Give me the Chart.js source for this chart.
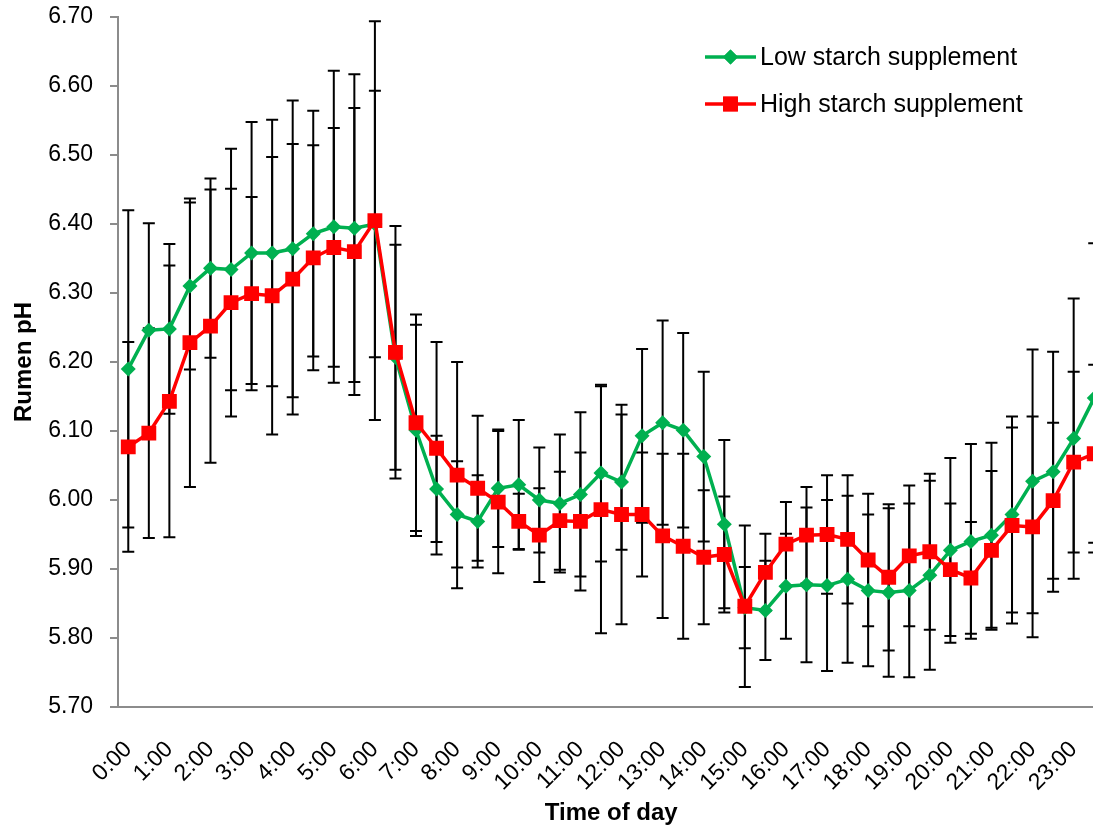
<!DOCTYPE html>
<html>
<head>
<meta charset="utf-8">
<script src="https://cdn.jsdelivr.net/npm/chart.js@4.4.0/dist/chart.umd.min.js"></script>
<style>
html,body{margin:0;padding:0;background:#fff;overflow:hidden;}
#wrap{width:1115px;height:828px;}
</style>
</head>
<body>
<div id="wrap"><canvas id="ph" width="1115" height="828"></canvas></div>
<script>
// half-hourly readings, labels shown every full hour
const times = ['0:00','0:30','1:00','1:30','2:00','2:30','3:00','3:30','4:00','4:30','5:00','5:30',
  '6:00','6:30','7:00','7:30','8:00','8:30','9:00','9:30','10:00','10:30','11:00','11:30',
  '12:00','12:30','13:00','13:30','14:00','14:30','15:00','15:30','16:00','16:30','17:00','17:30',
  '18:00','18:30','19:00','19:30','20:00','20:30','21:00','21:30','22:00','22:30','23:00','23:30'];

const lowStarch = [6.190,6.246,6.248,6.310,6.336,6.334,6.358,6.358,6.364,6.386,6.396,6.394,
  6.400,6.207,6.101,6.016,5.979,5.969,6.017,6.022,6.000,5.995,6.008,6.039,
  6.026,6.093,6.112,6.101,6.063,5.965,5.844,5.840,5.875,5.877,5.876,5.885,
  5.869,5.866,5.869,5.891,5.927,5.940,5.949,5.979,6.027,6.041,6.089,6.148];
const lowStarchErr = [0.230,0.155,0.123,0.121,0.130,0.175,0.190,0.193,0.215,0.178,0.226,0.223,
  0.193,0.163,0.153,0.077,0.077,0.067,0.085,0.094,0.076,0.100,0.119,0.128,
  0.098,0.126,0.148,0.141,0.123,0.122,0.059,0.072,0.076,0.112,0.124,0.121,
  0.110,0.122,0.126,0.137,0.134,0.141,0.134,0.142,0.191,0.174,0.203,0.224];

const highStarch = [6.077,6.097,6.143,6.228,6.252,6.286,6.299,6.296,6.320,6.351,6.366,6.360,
  6.405,6.214,6.112,6.075,6.036,6.017,5.997,5.969,5.949,5.970,5.969,5.986,
  5.979,5.979,5.948,5.933,5.917,5.921,5.846,5.895,5.936,5.949,5.950,5.943,
  5.913,5.888,5.919,5.925,5.899,5.887,5.927,5.963,5.961,5.999,6.055,6.067];
const highStarchErr = [0.152,0.152,0.197,0.209,0.198,0.165,0.140,0.201,0.196,0.163,0.173,0.208,
  0.289,0.183,0.157,0.154,0.164,0.105,0.103,0.040,0.068,0.071,0.100,0.179,
  0.159,0.090,0.119,0.134,0.097,0.084,0.117,0.056,0.061,0.070,0.086,0.093,
  0.096,0.106,0.102,0.113,0.096,0.081,0.115,0.142,0.160,0.113,0.131,0.129];

const yMin = 5.70, yMax = 6.70, yStep = 0.10;

const FONT = "'Liberation Sans', Arial, sans-serif";
const GREEN = '#00B050', RED = '#FF0000', AXIS = '#8c8c8c';
const errs = [lowStarchErr, highStarchErr];

const errorBars = {
  id: 'errorBars',
  beforeDatasetsDraw(chart) {
    const ctx = chart.ctx, y = chart.scales.y;
    ctx.save();
    ctx.strokeStyle = '#000';
    ctx.lineWidth = 2;
    chart.data.datasets.forEach((ds, di) => {
      chart.getDatasetMeta(di).data.forEach((pt, i) => {
        const top = y.getPixelForValue(ds.data[i] + errs[di][i]);
        const bot = y.getPixelForValue(ds.data[i] - errs[di][i]);
        ctx.beginPath();
        ctx.moveTo(pt.x, top); ctx.lineTo(pt.x, bot);
        ctx.moveTo(pt.x - 6, top); ctx.lineTo(pt.x + 6, top);
        ctx.moveTo(pt.x - 6, bot); ctx.lineTo(pt.x + 6, bot);
        ctx.stroke();
      });
    });
    ctx.restore();
  }
};

const boxLegend = {
  id: 'boxLegend',
  afterDraw(chart) {
    const ctx = chart.ctx;
    ctx.save();
    chart.data.datasets.forEach((ds, i) => {
      const yy = 57 + i * 47;
      ctx.strokeStyle = ds.borderColor;
      ctx.lineWidth = ds.borderWidth;
      ctx.beginPath(); ctx.moveTo(705, yy); ctx.lineTo(756, yy); ctx.stroke();
      ctx.fillStyle = ds.backgroundColor;
      ctx.beginPath();
      Chart.helpers.drawPoint(ctx, {pointStyle: ds.pointStyle, radius: ds.pointRadius, borderWidth: 0}, 730.5, yy);
      ctx.fill();
      ctx.fillStyle = '#000';
      ctx.font = '25px ' + FONT;
      ctx.textBaseline = 'middle';
      ctx.fillText(ds.label, 760, yy + 1);
    });
    ctx.restore();
  }
};

new Chart(document.getElementById('ph'), {
  type: 'line',
  data: {
    labels: times,
    datasets: [
      { label: 'Low starch supplement', data: lowStarch, borderColor: GREEN, backgroundColor: GREEN,
        borderWidth: 3.5, pointStyle: 'rectRot', pointRadius: 7.5, pointBorderWidth: 0, tension: 0, order: 1 },
      { label: 'High starch supplement', data: highStarch, borderColor: RED, backgroundColor: RED,
        borderWidth: 3.5, pointStyle: 'rect', pointRadius: 10.5, pointBorderWidth: 0, tension: 0, order: 0 }
    ]
  },
  options: {
    responsive: false,
    animation: false,
    layout: { padding: { top: 17, left: 0, right: 0, bottom: 0 } },
    plugins: { legend: { display: false }, tooltip: { enabled: false } },
    scales: {
      x: {
        offset: true,
        grid: { display: false, drawTicks: false },
        border: { display: true, color: AXIS, width: 2 },
        ticks: {
          autoSkip: false, minRotation: 45, maxRotation: 45, padding: 29,
          color: '#000', font: { family: FONT, size: 23 },
          callback: (v, i) => i % 2 === 0 ? times[i] : ''
        },
        title: { display: true, text: 'Time of day', color: '#000', padding: 0,
          font: { family: FONT, size: 24, weight: 'bold' } },
        afterFit: s => { s.height = 121; s.paddingLeft = 0; s.paddingRight = 0; }
      },
      y: {
        min: yMin, max: yMax,
        grid: { display: true, drawOnChartArea: false, drawTicks: true, tickLength: 8, color: AXIS, lineWidth: 2 },
        border: { display: true, color: AXIS, width: 2 },
        ticks: { stepSize: yStep, padding: 17, color: '#000', font: { family: FONT, size: 23 },
          callback: v => v.toFixed(2) },
        title: { display: true, text: 'Rumen pH', color: '#000', padding: { top: 10, bottom: 0 },
          font: { family: FONT, size: 24, weight: 'bold' } },
        afterFit: s => { s.width = 118; s.paddingTop = 0; s.paddingBottom = 0; }
      }
    }
  },
  plugins: [errorBars, boxLegend]
});
</script>
</body>
</html>
